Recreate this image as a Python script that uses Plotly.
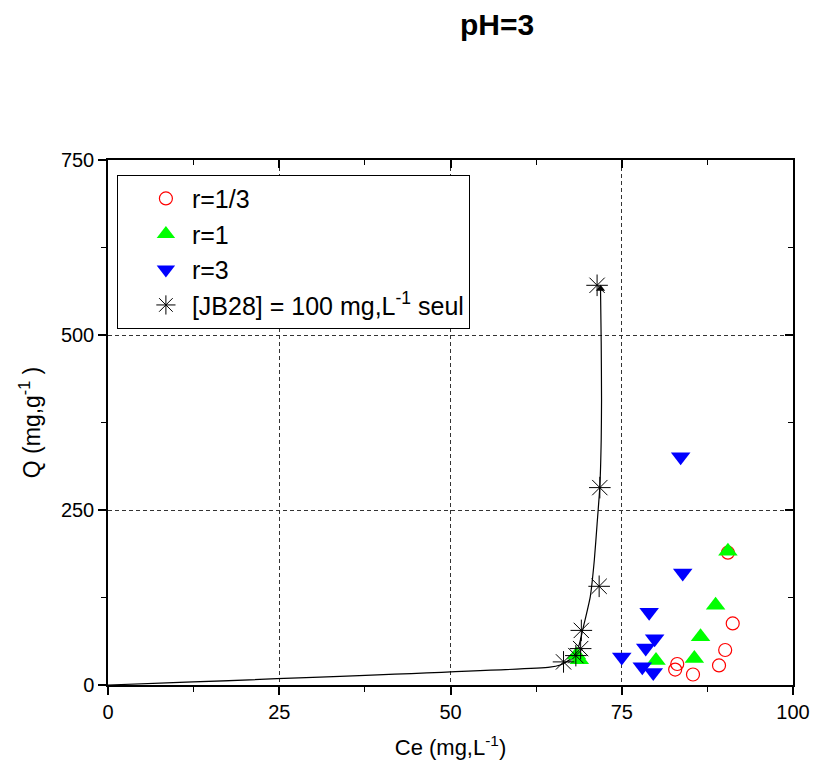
import plotly.graph_objects as go

# ---- data ----
r13_x = [90.5, 91.2, 90.1, 89.2, 83.1, 82.8, 85.4]
r13_y = [189, 88, 50, 28, 30, 22, 15]

r1_x = [90.5, 88.7, 86.5, 85.6, 80.0, 68.4, 68.8]
r1_y = [191, 114, 69, 38, 35, 43, 36]

r3_x = [83.6, 83.9, 79.0, 79.8, 78.5, 75.0, 78.0, 79.6]
r3_y = [326, 160, 104, 66, 53, 40, 26, 18]

jb_x = [71.4, 71.8, 71.7, 69.1, 69.0, 68.3, 66.5]
jb_y = [571, 282, 141, 78, 52, 42, 33]

fit_x = [0, 64.5, 66.0, 67.4, 68.7, 69.4, 70.4, 71.0, 71.4, 71.8, 72.0, 72.05, 72.0, 71.9]
fit_y = [0, 25.5, 28.6, 36, 55, 83, 126, 179, 230, 283, 350, 407, 490, 566]

X_RANGE = [0, 100]
Y_RANGE = [0, 750]
x_ticks = [0, 25, 50, 75, 100]
y_ticks = [0, 250, 500, 750]

FONT = "Liberation Sans, Arial, sans-serif"

fig = go.Figure()

fig.add_trace(go.Scatter(x=fit_x, y=fit_y, mode="lines", line=dict(color="black", width=1.2, shape="spline", smoothing=0.5),
                         showlegend=False, hoverinfo="skip"))
fig.add_trace(go.Scatter(x=fit_x[-1:], y=fit_y[-1:], mode="markers",
                         marker=dict(symbol="triangle-up", size=8, color="black"),
                         showlegend=False, hoverinfo="skip"))

fig.add_trace(go.Scatter(x=r13_x, y=r13_y, mode="markers", name="r=1/3",
                         marker=dict(symbol="circle-open", size=13, color="#ff0000", line=dict(width=1.2))))
fig.add_trace(go.Scatter(x=r1_x, y=r1_y, mode="markers", name="r=1",
                         marker=dict(symbol="triangle-up", size=17, color="#00ff00", line=dict(width=0))))
fig.add_trace(go.Scatter(x=r3_x, y=r3_y, mode="markers", name="r=3",
                         marker=dict(symbol="triangle-down", size=17, color="#0000ff", line=dict(width=0))))
fig.add_trace(go.Scatter(x=jb_x, y=jb_y, mode="markers", name="[JB28] = 100 mg,L<sup>-1</sup> seul",
                         marker=dict(symbol="asterisk-open", size=18, color="black", line=dict(width=1, color="black"))))

# helper trace for mirrored inward ticks
fig.add_trace(go.Scatter(x=[], y=[], xaxis="x2", yaxis="y2", showlegend=False, hoverinfo="skip"))

axis_common = dict(showline=True, linecolor="black", linewidth=1.5, zeroline=False, automargin=False,
                   tickfont=dict(family=FONT, size=20, color="black"))

GRID = dict(showgrid=True, gridcolor="#333", griddash="4px,3px", gridwidth=1)

fig.update_layout(
    width=815, height=776,
    margin=dict(l=108, r=22, t=160, b=91),
    paper_bgcolor="white", plot_bgcolor="white",
    font=dict(family=FONT, color="black"),
    title=dict(text="<b>pH=3</b>", xref="container", x=0.61, xanchor="center",
               yref="container", y=0.968, yanchor="middle",
               font=dict(family=FONT, size=30, color="black")),
    xaxis=dict(range=X_RANGE, tickvals=x_ticks, ticks="outside", ticklen=8, tickwidth=1.5, tickcolor="black",
               minor=dict(ticks="outside", ticklen=5, tickwidth=1.2, tickcolor="black", dtick=12.5, showgrid=False),
               title=dict(text="Ce (mg,L<sup>-1</sup>)", font=dict(family=FONT, size=22), standoff=18),
               **GRID, **axis_common),
    yaxis=dict(range=Y_RANGE, tickvals=y_ticks, ticks="outside", ticklen=8, tickwidth=1.5, tickcolor="black",
               minor=dict(ticks="outside", ticklen=5, tickwidth=1.2, tickcolor="black", dtick=125, showgrid=False),
               title=dict(text="Q (mg,g<sup>-1</sup> )", font=dict(family=FONT, size=23), standoff=14),
               **GRID, **axis_common),
    xaxis2=dict(range=X_RANGE, overlaying="x", side="top", tickvals=x_ticks, ticks="inside", ticklen=8,
                tickwidth=1.5, tickcolor="black", showticklabels=False, showgrid=False, automargin=False,
                minor=dict(ticks="inside", ticklen=5, tickwidth=1.2, tickcolor="black", dtick=12.5, showgrid=False),
                showline=True, linecolor="black", linewidth=1.5, zeroline=False),
    yaxis2=dict(range=Y_RANGE, overlaying="y", side="right", tickvals=y_ticks, ticks="inside", ticklen=8,
                tickwidth=1.5, tickcolor="black", showticklabels=False, showgrid=False, automargin=False,
                minor=dict(ticks="inside", ticklen=5, tickwidth=1.2, tickcolor="black", dtick=125, showgrid=False),
                showline=True, linecolor="black", linewidth=1.5, zeroline=False),
    legend=dict(x=0.013, y=0.972, xanchor="left", yanchor="top",
                bgcolor="white", bordercolor="black", borderwidth=1,
                font=dict(family=FONT, size=25, color="black"),
                indentation=22, itemwidth=42, tracegroupgap=0, itemsizing="trace"),
)

fig.write_html("out.html")
